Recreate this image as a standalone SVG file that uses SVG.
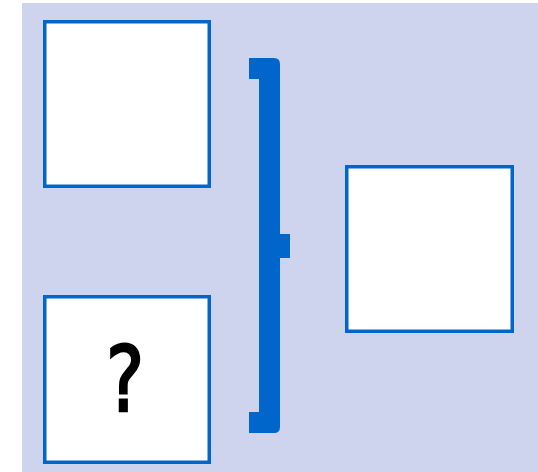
<svg xmlns="http://www.w3.org/2000/svg" width="538" height="472" viewBox="0 0 538 472">
<style>
.box{fill:#FFFFFF;stroke:#0066CC;stroke-width:3.5}
.br{fill:#0066CC}
</style>
<rect x="0" y="0" width="538" height="472" fill="#FFFFFF"/>
<rect x="22" y="3" width="516" height="469" fill="#CED4EE"/>
<g id="node-top"><rect class="box" x="44.75" y="21.75" width="164.5" height="164.5"/></g>
<g id="node-bottom"><rect class="box" x="44.75" y="296.75" width="164.5" height="165.5"/>
<text x="0" y="411" font-family="DejaVu Sans, sans-serif" font-size="90" fill="#000000" stroke="#000000" stroke-width="2.5" text-anchor="middle" transform="translate(125 0) scale(0.8 1)">?</text></g>
<g id="node-right"><rect class="box" x="346.75" y="166.75" width="165.5" height="164.5"/></g>
<g id="connectors">
<path class="br" d="M249 58 H274 Q280 58 280 64 V234 H290 V258 H280 V427 Q280 433 274 433 H249 V412 H259 V79 H249 Z"/>
</g>
</svg>
